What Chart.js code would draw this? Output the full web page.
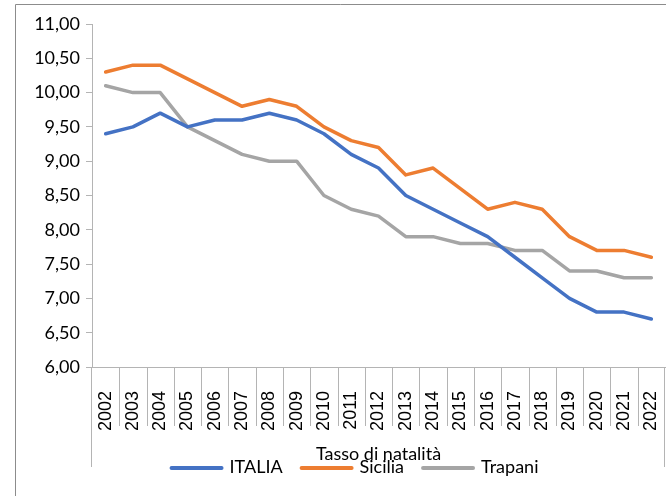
<!DOCTYPE html>
<html>
<head>
<meta charset="utf-8">
<script src="https://cdn.jsdelivr.net/npm/chart.js@4.4.1/dist/chart.umd.min.js"></script>
<style>
  html, body { margin: 0; padding: 0; background: #fff; }
  #wrap { width: 666px; height: 496px; position: relative; }
</style>
</head>
<body>
<div id="wrap"><canvas id="natalitaChart" width="666" height="496"></canvas></div>
<script>
const years = ['2002', '2003', '2004', '2005', '2006', '2007', '2008', '2009', '2010', '2011',
               '2012', '2013', '2014', '2015', '2016', '2017', '2018', '2019', '2020', '2021', '2022'];
const italia  = [9.4, 9.5, 9.7, 9.5, 9.6, 9.6, 9.7, 9.6, 9.4, 9.1, 8.9, 8.5, 8.3, 8.1, 7.9, 7.6, 7.3, 7.0, 6.8, 6.8, 6.7];
const sicilia = [10.3, 10.4, 10.4, 10.2, 10.0, 9.8, 9.9, 9.8, 9.5, 9.3, 9.2, 8.8, 8.9, 8.6, 8.3, 8.4, 8.3, 7.9, 7.7, 7.7, 7.6];
const trapani = [10.1, 10.0, 10.0, 9.5, 9.3, 9.1, 9.0, 9.0, 8.5, 8.3, 8.2, 7.9, 7.9, 7.8, 7.8, 7.7, 7.7, 7.4, 7.4, 7.3, 7.3];
const yMin = 6;
const yMax = 11;
const yStep = 0.5;
const groupTitle = 'Tasso di natalità';

const axisColor = '#b4b4b4';
const frameColor = '#8c8c8c';
const textFont = 'Lato';

// frame, category separators, group label and legend (Excel style)
const excelDecor = {
    id: 'excelDecor',
    afterDraw(chart) {
        const ctx = chart.ctx;
        const xs = chart.scales.x;
        const area = chart.chartArea;
        const bottom = area.bottom;
        ctx.save();

        // outer frame
        ctx.strokeStyle = frameColor;
        ctx.lineWidth = 1;
        ctx.beginPath();
        ctx.moveTo(15.5, 496);
        ctx.lineTo(15.5, 4.5);
        ctx.lineTo(666, 4.5);
        ctx.stroke();

        // separators between categories
        ctx.strokeStyle = axisColor;
        for (let i = 1; i < years.length; i++) {
            const px = Math.round((xs.getPixelForValue(i - 1) + xs.getPixelForValue(i)) / 2) + 0.5;
            ctx.beginPath();
            ctx.moveTo(px, bottom);
            ctx.lineTo(px, bottom + 59);
            ctx.stroke();
        }
        // outer boundaries of the group
        [Math.round(area.left) - 0.5, Math.round(area.right) - 0.5].forEach(px => {
            ctx.beginPath();
            ctx.moveTo(px, bottom);
            ctx.lineTo(px, bottom + 100);
            ctx.stroke();
        });

        // group label
        ctx.fillStyle = '#000';
        ctx.font = '18px ' + textFont;
        ctx.textAlign = 'center';
        ctx.textBaseline = 'alphabetic';
        ctx.fillText(groupTitle, (area.left + area.right) / 2, 460);

        // legend
        const lineLen = 54;
        const items = chart.data.datasets.map(ds => ({
            label: ds.label,
            color: ds.borderColor,
            w: ctx.measureText(ds.label).width
        }));
        const gap = 17;
        const total = items.reduce((s, it) => s + lineLen + 6 + it.w, 0) + gap * (items.length - 1);
        let x = 354 - total / 2;
        const ly = 468;
        ctx.textAlign = 'left';
        ctx.textBaseline = 'middle';
        items.forEach(it => {
            ctx.strokeStyle = it.color;
            ctx.lineWidth = 4;
            ctx.lineCap = 'round';
            ctx.beginPath();
            ctx.moveTo(x + 2, ly);
            ctx.lineTo(x + lineLen - 2, ly);
            ctx.stroke();
            ctx.fillText(it.label, x + lineLen + 6, ly - 1);
            x += lineLen + 6 + it.w + gap;
        });
        ctx.restore();
    }
};

const ctx = document.getElementById('natalitaChart').getContext('2d');
const chart = new Chart(ctx, {
    type: 'line',
    data: {
        labels: years,
        datasets: [
            { label: 'ITALIA',  data: italia,  borderColor: '#4472C4' },
            { label: 'Sicilia', data: sicilia, borderColor: '#ED7D31' },
            { label: 'Trapani', data: trapani, borderColor: '#A5A5A5' }
        ]
    },
    options: {
        responsive: false,
        animation: false,
        layout: { padding: { left: 0, top: 24, right: 1, bottom: 0 } },
        elements: {
            line: { borderWidth: 3.5, tension: 0, borderCapStyle: 'round', borderJoinStyle: 'round', fill: false },
            point: { radius: 0, hoverRadius: 0 }
        },
        plugins: {
            legend: { display: false },
            tooltip: { enabled: false }
        },
        scales: {
            x: {
                offset: true,
                grid: { display: false },
                border: { color: axisColor },
                ticks: {
                    autoSkip: false,
                    minRotation: 90,
                    maxRotation: 90,
                    padding: 16,
                    color: '#000',
                    font: { family: 'Liberation Sans', size: 18 }
                },
                afterFit(scale) {
                    scale.height = 129;
                    scale.paddingLeft = 0;
                    scale.paddingRight = 0;
                }
            },
            y: {
                min: yMin,
                max: yMax,
                grid: { drawOnChartArea: false, drawTicks: true, tickLength: 6, color: axisColor },
                border: { color: axisColor },
                ticks: {
                    stepSize: yStep,
                    padding: 6,
                    color: '#000',
                    font: { family: textFont, size: 18 },
                    callback: v => v.toFixed(2).replace('.', ',')
                },
                afterFit(scale) { scale.width = 92; }
            }
        }
    },
    plugins: [excelDecor]
});
</script>
</body>
</html>
